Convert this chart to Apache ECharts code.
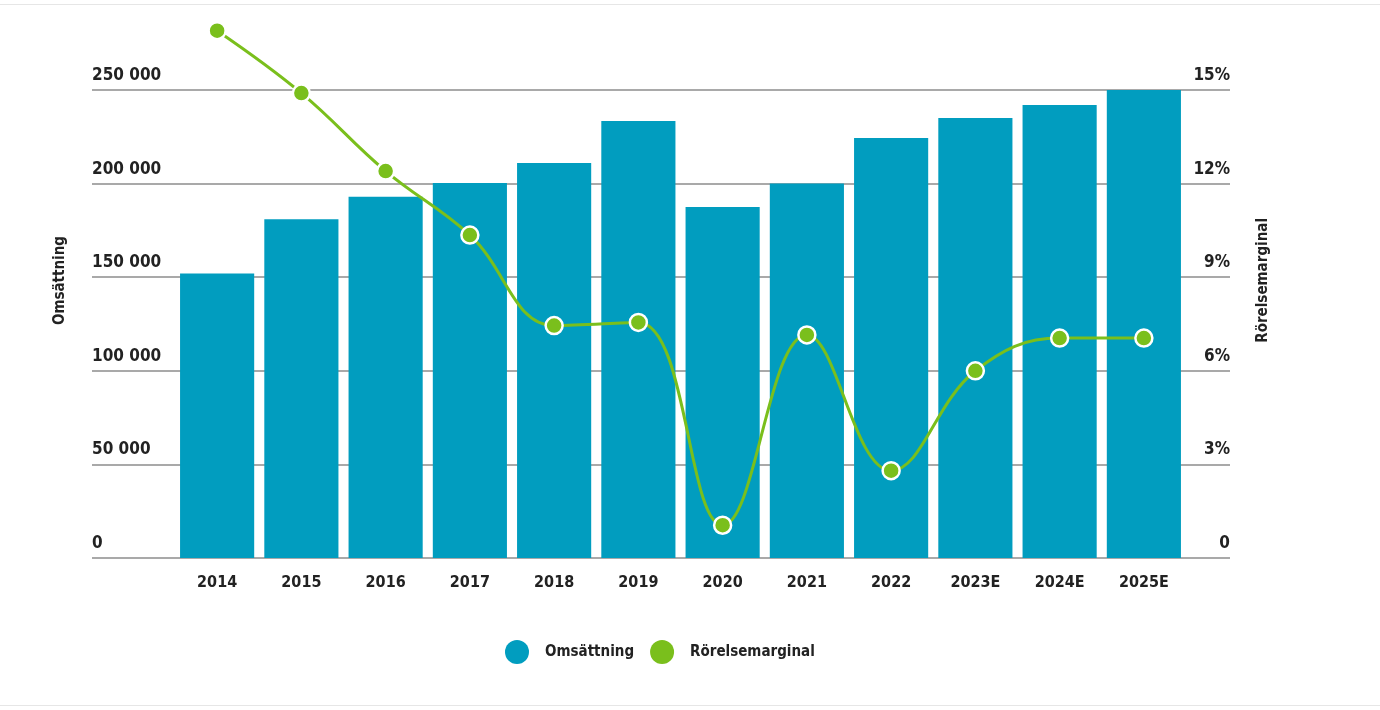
<!DOCTYPE html>
<html><head><meta charset="utf-8">
<script src="https://cdn.jsdelivr.net/npm/echarts@6/dist/echarts.min.js"></script>
<style>html,body{margin:0;padding:0;background:#fff;}#c{width:1380px;height:710px;}</style>
</head><body><div id="c"></div>
<script>
const categories = ['2014','2015','2016','2017','2018','2019','2020','2021','2022','2023E','2024E','2025E'];
const omsattning = [152000, 181000, 193000, 200300, 211000, 233400, 187500, 200000, 224400, 235000, 242000, 250000];
const rorelsemarginal = [16.9, 14.9, 12.4, 10.35, 7.45, 7.55, 1.05, 7.15, 2.8, 6.0, 7.05, 7.05];
const leftTicks = {min: 0, max: 250000, interval: 50000};
const rightTicks = {min: 0, max: 15, interval: 3};

const FONT = '"Liberation Sans Narrow","DejaVu Sans Condensed",sans-serif';
const TXT = '#222';
const BLUE = '#019dbf';
const GREEN = '#7abf1c';

const chart = echarts.init(document.getElementById('c'));
chart.setOption({
  animation: false,
  textStyle: {fontFamily: FONT},
  grid: [
    {left: 92, right: 150, top: 90, bottom: 152},
    {left: 175, right: 194, top: 90, bottom: 152}
  ],
  xAxis: [
    {gridIndex: 0, type: 'value', min: 0, max: 1, show: false},
    {gridIndex: 1, type: 'category', data: categories,
     axisLine: {show: false}, axisTick: {show: false},
     axisLabel: {color: TXT, fontFamily: FONT, fontSize: 16, fontWeight: 'bold', margin: 17}}
  ],
  yAxis: [
    {gridIndex: 0, type: 'value', position: 'left', min: leftTicks.min, max: leftTicks.max, interval: leftTicks.interval,
     axisLine: {show: false}, axisTick: {show: false},
     axisLabel: {inside: true, margin: 0, verticalAlign: 'bottom', align: 'left', padding: [0,0,6,0],
       color: TXT, fontFamily: FONT, fontSize: 17, fontWeight: 'bold',
       formatter: v => String(v).replace(/\B(?=(\d{3})+(?!\d))/g, ' ')},
     splitLine: {lineStyle: {color: '#8c8c8c', width: 1.5}}},
    {gridIndex: 0, type: 'value', position: 'right', min: rightTicks.min, max: rightTicks.max, interval: rightTicks.interval,
     axisLine: {show: false}, axisTick: {show: false},
     axisLabel: {inside: true, margin: 0, verticalAlign: 'bottom', align: 'right', padding: [0,0,6,0],
       color: TXT, fontFamily: FONT, fontSize: 17, fontWeight: 'bold',
       formatter: v => v === 0 ? '0' : v + '%'},
     splitLine: {show: false}},
    {gridIndex: 1, type: 'value', min: leftTicks.min, max: leftTicks.max, show: false, splitLine: {show: false}},
    {gridIndex: 1, type: 'value', min: rightTicks.min, max: rightTicks.max, show: false, splitLine: {show: false}}
  ],
  legend: {
    bottom: 41, left: 500, icon: 'circle', itemWidth: 24, itemHeight: 24, itemGap: 16,
    textStyle: {color: TXT, fontFamily: FONT, fontSize: 15, fontWeight: 'bold', padding: [0,0,0,11]},
    data: [{name: 'Omsättning', itemStyle: {color: BLUE}}, {name: 'Rörelsemarginal', itemStyle: {color: GREEN, borderWidth: 0}}]
  },
  series: [
    {name: 'Omsättning', type: 'bar', xAxisIndex: 1, yAxisIndex: 2, data: omsattning,
     barCategoryGap: '12%', itemStyle: {color: BLUE}, z: 2},
    {name: 'Rörelsemarginal', type: 'line', xAxisIndex: 1, yAxisIndex: 3, data: rorelsemarginal,
     smooth: 0.4, clip: false, symbol: 'circle', symbolSize: 17,
     lineStyle: {color: GREEN, width: 3},
     itemStyle: {color: GREEN, borderColor: '#fff', borderWidth: 2.5}, z: 5}
  ],
  graphic: [
    {type: 'text', left: 53, top: 236, rotation: Math.PI/2, style: {text: 'Omsättning', fill: TXT, font: 'bold 15px ' + FONT}},
    {type: 'text', left: 1256, top: 218, rotation: Math.PI/2, style: {text: 'Rörelsemarginal', fill: TXT, font: 'bold 15px ' + FONT}},
    {type: 'rect', shape: {x: 0, y: 4, width: 1380, height: 1}, style: {fill: '#e6e6e6'}},
    {type: 'rect', shape: {x: 0, y: 705, width: 1380, height: 1}, style: {fill: '#e6e6e6'}}
  ]
});
</script></body></html>
